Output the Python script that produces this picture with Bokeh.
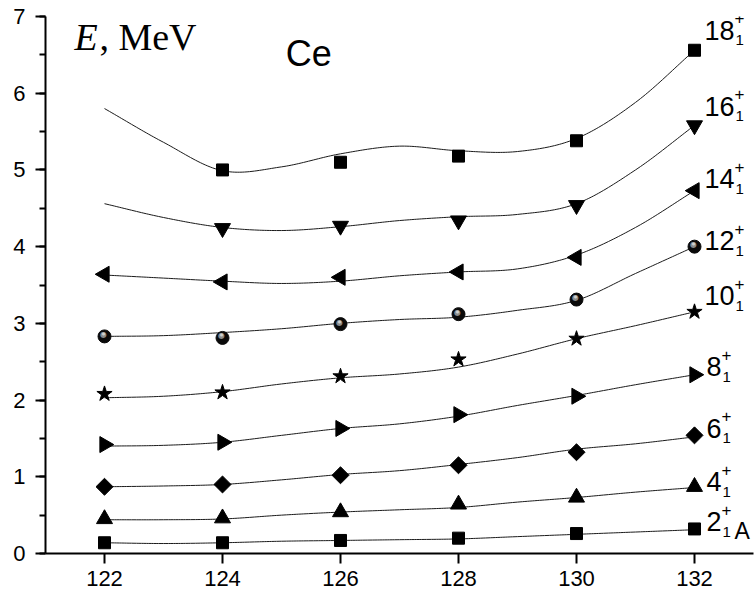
import numpy as np
from bokeh.plotting import figure
from bokeh.models import Label, FixedTicker, SingleIntervalTicker, Range1d
from bokeh.core.properties import value
from bokeh.embed import file_html
from bokeh.resources import INLINE

# Mass numbers of the measured Ce isotopes
mass_numbers = [122, 124, 126, 128, 130, 132]
mass_upper = [124, 126, 128, 130, 132]
# Mass grid of the calculated curves
curve_mass = [122, 123, 124, 125, 126, 127, 128, 129, 130, 131, 132]

# Measured level energies, MeV
exp_2 = [0.14, 0.14, 0.17, 0.20, 0.26, 0.32]
exp_4 = [0.45, 0.46, 0.54, 0.64, 0.73, 0.87]
exp_6 = [0.87, 0.90, 1.02, 1.15, 1.32, 1.54]
exp_8 = [1.42, 1.45, 1.63, 1.81, 2.05, 2.33]
exp_10 = [2.08, 2.10, 2.31, 2.53, 2.80, 3.15]
exp_12 = [2.83, 2.81, 2.99, 3.12, 3.31, 4.00]
exp_14 = [3.64, 3.54, 3.60, 3.67, 3.86, 4.73]
exp_16 = [4.24, 4.27, 4.34, 4.54, 5.58]
exp_18 = [5.00, 5.10, 5.18, 5.38, 6.56]

# Calculated level energies, MeV
calc_2 = [0.14, 0.13, 0.14, 0.16, 0.17, 0.18, 0.19, 0.22, 0.25, 0.28, 0.31]
calc_4 = [0.44, 0.44, 0.45, 0.50, 0.54, 0.57, 0.60, 0.67, 0.73, 0.80, 0.86]
calc_6 = [0.87, 0.88, 0.90, 0.96, 1.03, 1.08, 1.16, 1.25, 1.36, 1.43, 1.52]
calc_8 = [1.40, 1.41, 1.45, 1.54, 1.63, 1.69, 1.79, 1.93, 2.06, 2.20, 2.33]
calc_10 = [2.03, 2.05, 2.11, 2.21, 2.29, 2.34, 2.43, 2.60, 2.80, 2.97, 3.15]
calc_12 = [2.83, 2.84, 2.88, 2.93, 3.00, 3.05, 3.08, 3.17, 3.30, 3.65, 4.00]
calc_14 = [3.63, 3.59, 3.55, 3.52, 3.55, 3.62, 3.67, 3.71, 3.89, 4.25, 4.73]
calc_16 = [4.56, 4.38, 4.25, 4.21, 4.26, 4.34, 4.39, 4.42, 4.56, 5.00, 5.58]
calc_18 = [5.80, 5.36, 4.99, 5.04, 5.21, 5.31, 5.25, 5.24, 5.41, 5.88, 6.56]

spin_labels = ["2", "4", "6", "8", "10", "12", "14", "16", "18"]

FONT = "Liberation Sans"
LIFT = 12  # raises annotation text so its baseline sits where intended


def smooth_path(xs, ys, steps=24):
    """Catmull-Rom spline through the given nodes, for drawing a smooth line."""
    xs = np.asarray(xs, float)
    ys = np.asarray(ys, float)
    px = np.concatenate([[2 * xs[0] - xs[1]], xs, [2 * xs[-1] - xs[-2]]])
    py = np.concatenate([[2 * ys[0] - ys[1]], ys, [2 * ys[-1] - ys[-2]]])
    out_x, out_y = [], []
    for i in range(1, len(px) - 2):
        t = np.linspace(0, 1, steps, endpoint=False)
        for arr, out in ((px, out_x), (py, out_y)):
            p0, p1, p2, p3 = arr[i - 1], arr[i], arr[i + 1], arr[i + 2]
            out.extend(0.5 * ((2 * p1) + (-p0 + p2) * t
                              + (2 * p0 - 5 * p1 + 4 * p2 - p3) * t ** 2
                              + (-p0 + 3 * p1 - 3 * p2 + p3) * t ** 3))
    out_x.append(xs[-1])
    out_y.append(ys[-1])
    return out_x, out_y


p = figure(width=754, height=595, output_backend="svg", toolbar_location=None,
           x_range=Range1d(121, 133), y_range=Range1d(0, 7),
           min_border_left=45, min_border_right=1, min_border_top=16,
           min_border_bottom=42)
p.outline_line_color = None
p.xgrid.visible = False
p.ygrid.visible = False
p.background_fill_color = "white"
p.border_fill_color = "white"

for ax in (p.xaxis[0], p.yaxis[0]):
    ax.axis_line_width = 2
    ax.axis_line_color = "black"
    ax.major_tick_line_width = 2
    ax.major_tick_line_color = "black"
    ax.minor_tick_line_width = 2
    ax.minor_tick_line_color = "black"
    ax.major_tick_in = 0
    ax.major_tick_out = 10
    ax.minor_tick_in = 0
    ax.minor_tick_out = 6
    ax.major_label_text_font = FONT
    ax.major_label_text_font_size = "22px"
    ax.major_label_text_color = "black"

p.xaxis.ticker = FixedTicker(ticks=mass_numbers, minor_ticks=[])
p.xaxis.minor_tick_line_color = None
p.xaxis.major_label_standoff = 7
p.yaxis.ticker = SingleIntervalTicker(interval=1, num_minor_ticks=2)
p.yaxis.major_label_standoff = 10

# Calculated curves
for calc in (calc_2, calc_4, calc_6, calc_8, calc_10, calc_12, calc_14, calc_16, calc_18):
    sx, sy = smooth_path(curve_mass, calc)
    p.line(sx, sy, line_color="#1a1a1a", line_width=1)

# Measured points
black = dict(fill_color="black", line_color="black")
p.scatter(mass_numbers, exp_2, marker="square", size=12, **black)
p.scatter(mass_numbers, exp_4, marker="triangle", size=16, **black)
p.scatter(mass_numbers, exp_6, marker="square", size=12, angle=np.pi / 4, **black)
p.scatter(mass_numbers, exp_8, marker="triangle", size=16, angle=-np.pi / 2, **black)
p.scatter(mass_numbers, exp_10, marker="star", size=16, **black)
p.scatter(mass_numbers, exp_12, marker="circle", size=13, fill_color="#0a0a0a", line_color="#0a0a0a")
p.text(mass_numbers, exp_12, text=["\u25cf"] * len(mass_numbers), x_offset=-1, y_offset=-2,
       text_font=value("DejaVu Sans"), text_font_size="8px", text_color="#8c8c8c",
       text_align="center", text_baseline="middle")
p.text(mass_numbers, exp_12, text=["\u25cf"] * len(mass_numbers), x_offset=-1, y_offset=-3,
       text_font=value("DejaVu Sans"), text_font_size="4px", text_color="#d0d0d0",
       text_align="center", text_baseline="middle")
p.scatter(mass_numbers, exp_14, marker="triangle", size=16, angle=np.pi / 2, **black)
p.scatter(mass_upper, exp_16, marker="inverted_triangle", size=16, **black)
p.scatter(mass_upper, exp_18, marker="square", size=12, **black)

# State labels J^+_1 next to the last point of each band
last_values = [exp_2[-1], exp_4[-1], exp_6[-1], exp_8[-1], exp_10[-1],
               exp_12[-1], exp_14[-1], exp_16[-1], exp_18[-1]]
label_dy = [-5, -7, -5, -4, 4, -6, 0, 7, 8]
NUM_SIZE = 27
SUP = 17
SUB = 15
for spin, yv, dy in zip(spin_labels, last_values, label_dy):
    nd = len(spin)
    x0 = 10 if nd == 2 else 12
    dy = dy + LIFT
    p.add_layout(Label(x=132, y=yv, x_offset=x0, y_offset=dy, text=spin,
                       text_font=FONT, text_font_size=f"{NUM_SIZE}px",
                       text_baseline="alphabetic", text_color="black"))
    xs = x0 + nd * 0.556 * NUM_SIZE
    p.add_layout(Label(x=132, y=yv, x_offset=xs, y_offset=dy + 12, text="+",
                       text_font=FONT, text_font_size=f"{SUP}px",
                       text_baseline="alphabetic", text_color="black"))
    p.add_layout(Label(x=132, y=yv, x_offset=xs + 1, y_offset=dy - 10, text="1",
                       text_font=FONT, text_font_size=f"{SUB}px",
                       text_baseline="alphabetic", text_color="black"))
    if spin == "2":
        p.add_layout(Label(x=132, y=yv, x_offset=40, y_offset=dy - 9, text="A",
                           text_font=FONT, text_font_size="23px",
                           text_baseline="alphabetic", text_color="black"))

# Axis caption and element name
p.add_layout(Label(x=121.49, y=6.58, y_offset=LIFT, text="E", text_font="Liberation Serif",
                   text_font_style="italic", text_font_size="38px",
                   text_baseline="alphabetic", text_color="black"))
p.add_layout(Label(x=121.49, y=6.58, x_offset=25, y_offset=LIFT, text=", MeV",
                   text_font="Liberation Serif", text_font_size="38px",
                   text_baseline="alphabetic", text_color="black"))
p.add_layout(Label(x=125.07, y=6.34, y_offset=LIFT + 2, text="Ce", text_font=FONT,
                   text_font_size="36px", text_baseline="alphabetic", text_color="black"))

open("out.html", "w").write(file_html(p, INLINE))
